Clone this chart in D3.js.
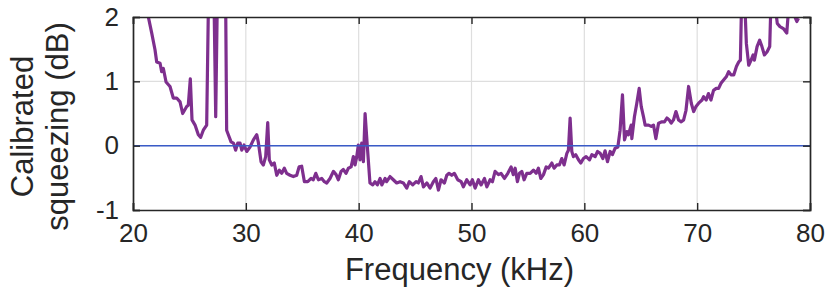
<!DOCTYPE html>
<html><head><meta charset="utf-8">
<script src="https://cdn.jsdelivr.net/npm/d3@7"></script>
<style>body{margin:0;background:#fff;} svg{display:block;}</style>
</head><body>
<svg id="chart" width="830" height="295"></svg>
<script>
const freqKHz = [21.0,21.36,21.66,21.95,22.1,22.4,22.54,22.69,22.93,23.28,23.57,23.87,24.17,24.4,24.76,24.9,25.08,25.23,25.5,25.79,26.0,26.23,26.53,26.75,26.95,27.12,27.33,27.5,27.75,28.0,28.2,28.3,
28.45,28.69,28.9,29.1,29.28,29.49,29.64,29.84,30.08,30.37,30.67,30.97,31.1,31.35,31.55,31.76,31.94,32.08,32.3,32.52,32.74,32.97,33.18,33.41,33.62,33.92,34.21,34.51,34.72,34.95,35.19,35.49,35.78,35.98,36.2,36.43,36.73,36.96,
37.17,37.46,37.76,38.0,38.2,38.44,38.64,38.88,39.09,39.33,39.53,39.68,39.83,39.97,40.12,40.27,40.42,40.57,40.77,41.0,41.25,41.45,41.66,41.9,42.05,42.34,42.48,42.78,43.07,43.37,43.67,43.96,44.26,44.49,44.79,45.09,45.29,
45.53,45.74,46.04,46.33,46.62,46.84,47.07,47.3,47.6,47.81,48.01,48.25,48.48,48.78,49.08,49.28,49.58,49.88,50.08,50.32,50.61,50.85,51.15,51.36,51.65,51.86,52.09,52.39,52.62,52.92,53.22,53.51,
53.7,53.87,54.07,54.25,54.46,54.66,54.9,55.2,55.49,55.73,55.93,56.14,56.38,56.62,56.82,57.12,57.32,57.56,57.79,58.0,58.21,58.45,58.59,58.74,58.89,59.03,59.24,59.48,59.69,59.92,60.16,60.46,60.67,60.96,61.17,61.41,61.64,61.84,62.05,
62.29,62.49,62.73,62.97,63.17,63.38,63.56,63.77,63.91,64.15,64.21,64.44,64.65,64.86,65.04,65.24,65.39,65.69,65.93,66.13,66.34,66.58,66.87,67.1,67.32,67.52,67.7,67.9,68.12,68.35,68.59,68.8,69.01,69.24,69.48,69.69,69.9,70.13,70.43,
70.57,70.8,71.0,71.22,71.45,71.69,71.9,72.11,72.34,72.58,72.79,73.0,73.24,73.48,73.68,73.83,73.98,74.18,74.36,74.57,74.78,74.96,75.07,75.31,75.54,75.74,75.96,76.2,76.43,76.55,76.7,76.9,77.1,77.34,77.64,77.94,78.09,78.3,78.55,78.83,78.98];
const squeezingDB = [2.4,2.0,1.75,1.49,1.30,1.28,1.15,1.20,0.99,0.92,0.74,0.74,0.68,0.50,0.61,0.63,1.04,0.40,0.32,0.17,0.13,0.24,0.32,3.0,3.5,3.0,0.45,2.6,4.0,3.5,2.5,0.24,
0.17,0.06,0.04,-0.07,0.04,0.04,-0.07,0.01,-0.09,-0.02,0.09,0.17,0.06,-0.25,-0.30,-0.17,0.36,-0.22,-0.30,-0.27,-0.46,-0.38,-0.43,-0.35,-0.43,-0.46,-0.48,-0.46,-0.33,-0.32,-0.56,-0.56,-0.51,-0.53,-0.43,-0.53,-0.51,-0.56,
-0.58,-0.51,-0.40,-0.45,-0.53,-0.40,-0.37,-0.43,-0.35,-0.33,-0.17,-0.30,-0.17,0.01,-0.22,0.04,-0.25,0.50,-0.02,-0.58,-0.61,-0.56,-0.61,-0.51,-0.61,-0.51,-0.56,-0.48,-0.53,-0.58,-0.56,-0.58,-0.66,-0.56,-0.61,-0.56,-0.58,
-0.48,-0.64,-0.58,-0.66,-0.56,-0.51,-0.69,-0.53,-0.58,-0.46,-0.43,-0.46,-0.43,-0.53,-0.56,-0.64,-0.53,-0.61,-0.53,-0.66,-0.53,-0.61,-0.51,-0.64,-0.53,-0.56,-0.40,-0.45,-0.43,-0.51,-0.43,-0.33,
-0.45,-0.35,-0.56,-0.43,-0.40,-0.53,-0.43,-0.43,-0.38,-0.43,-0.35,-0.51,-0.45,-0.33,-0.35,-0.27,-0.35,-0.30,-0.30,-0.20,-0.30,-0.12,-0.07,0.43,-0.09,-0.17,-0.14,-0.22,-0.27,-0.20,-0.17,-0.22,-0.14,-0.17,-0.09,-0.12,-0.20,-0.08,-0.25,
-0.09,-0.14,-0.04,-0.02,0.24,0.79,0.09,0.22,0.17,0.32,0.11,0.45,0.66,0.89,0.61,0.45,0.32,0.32,0.30,0.32,0.11,0.35,0.37,0.37,0.43,0.40,0.35,0.40,0.53,0.40,0.37,0.40,0.55,0.92,0.66,0.53,0.61,0.66,0.71,
0.76,0.71,0.81,0.71,0.86,0.89,0.89,0.97,1.02,1.07,1.15,1.10,1.10,1.23,1.30,1.33,2.6,2.4,1.59,1.25,1.33,1.41,1.33,1.54,1.64,1.54,1.41,1.46,1.54,2.3,2.5,2.2,1.9,1.85,1.82,1.75,2.1,2.2,2.05,1.93,1.98];
const xTicks = [20,30,40,50,60,70,80];
const yTicks = [-1,0,1,2];
const xLabel = "Frequency (kHz)";
const yLabelLines = ["Calibrated","squeezing (dB)"];
const refLine = 0;

const W = 830, H = 295;
const m = {left:133, right:20, top:17, bottom:85};
const iw = W - m.left - m.right, ih = H - m.top - m.bottom;
const svg = d3.select("#chart");
const font = "'Liberation Sans', Arial, Helvetica, sans-serif";
const ink = "#262626";

const x = d3.scaleLinear().domain([20,80]).range([0, iw]);
const y = d3.scaleLinear().domain([-1,2]).range([ih, 0]);

const g = svg.append("g").attr("transform", `translate(${m.left},${m.top})`);

svg.append("defs").append("clipPath").attr("id","clip")
  .append("rect").attr("x",0).attr("y",0).attr("width",iw).attr("height",ih);

// grid
g.append("g").selectAll("line").data(xTicks.slice(1,-1)).join("line")
  .attr("x1", d=>x(d)).attr("x2", d=>x(d)).attr("y1",0).attr("y2",ih)
  .attr("stroke","#dedede").attr("stroke-width",1.2);
g.append("g").selectAll("line").data(yTicks.slice(1,-1)).join("line")
  .attr("y1", d=>y(d)).attr("y2", d=>y(d)).attr("x1",0).attr("x2",iw)
  .attr("stroke","#dedede").attr("stroke-width",1.2);

// data line
const data = freqKHz.map((f,i)=>[f, squeezingDB[i]]);
g.append("path").datum(data)
  .attr("clip-path","url(#clip)")
  .attr("fill","none").attr("stroke","#7E2F8E").attr("stroke-width",3.2)
  .attr("stroke-linejoin","round")
  .attr("d", d3.line().x(d=>x(d[0])).y(d=>y(d[1])));

// reference line
g.append("line").attr("x1",0).attr("x2",iw).attr("y1",y(refLine)).attr("y2",y(refLine))
  .attr("stroke","#3a5bc7").attr("stroke-width",1.5);

// axes
const tl = 7;
const xb = g.append("g").attr("transform",`translate(0,${ih})`)
  .call(d3.axisBottom(x).tickValues(xTicks).tickSize(-tl).tickPadding(14).tickFormat(d3.format("d")));
const xt = g.append("g")
  .call(d3.axisTop(x).tickValues(xTicks).tickSize(-tl).tickFormat(""));
const yl = g.append("g")
  .call(d3.axisLeft(y).tickValues(yTicks).tickSize(-tl).tickPadding(14).tickFormat(d3.format("d")));
const yr = g.append("g").attr("transform",`translate(${iw},0)`)
  .call(d3.axisRight(y).tickValues(yTicks).tickSize(-tl).tickFormat(""));
[xb,xt,yl,yr].forEach(a=>{
  a.select(".domain").attr("stroke",ink).attr("stroke-width",1.7);
  a.selectAll(".tick line").attr("stroke",ink).attr("stroke-width",1.4);
  a.selectAll("text").attr("fill",ink).style("font-family",font).style("font-size","26px");
});
xb.selectAll("text").attr("dy","0.71em");
yl.selectAll("text").text(d=>d<0 ? "-" + Math.abs(d) : d);
xb.raise(); xt.raise(); yl.raise(); yr.raise();

// labels
svg.append("text").attr("x", m.left + iw/2 - 12).attr("y", 280)
  .attr("text-anchor","middle").attr("fill",ink)
  .style("font-family",font).style("font-size","31px").text(xLabel);

const yLab = svg.append("text").attr("transform",`translate(0,${m.top+ih/2 + 13}) rotate(-90)`)
  .attr("text-anchor","middle").attr("fill",ink)
  .style("font-family",font).style("font-size","31px");
yLabelLines.forEach((t,i)=>{
  yLab.append("tspan").attr("x",0).attr("y", 33 + i*35).text(t);
});
</script>
</body></html>
